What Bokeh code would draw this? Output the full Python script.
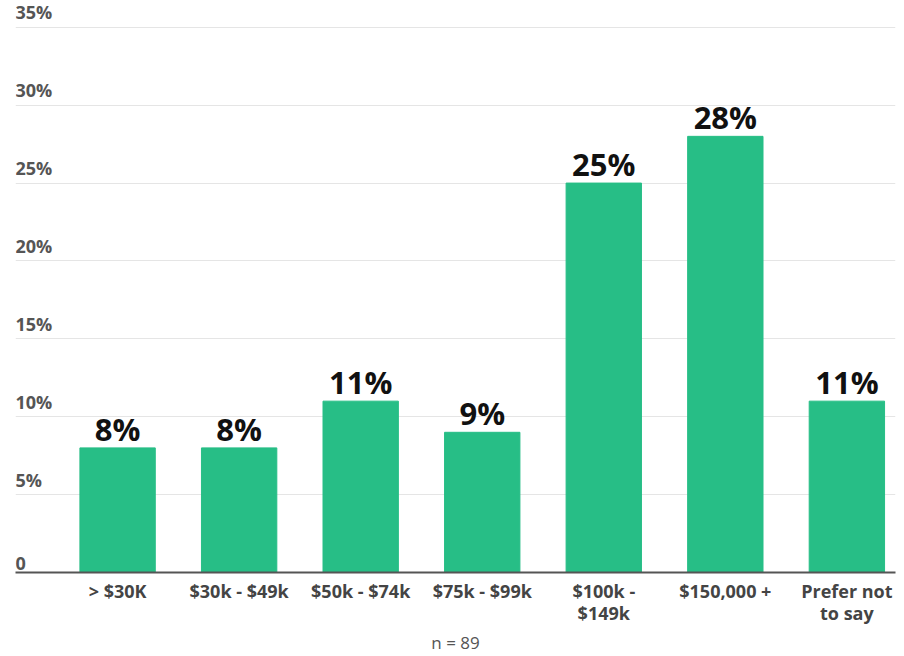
from bokeh.plotting import figure
from bokeh.models import FixedTicker, ColumnDataSource, Title
from bokeh.core.properties import value
from bokeh.embed import file_html
from bokeh.resources import INLINE

categories = ["> $30K", "$30k - $49k", "$50k - $74k", "$75k - $99k", "$100k -\n$149k", "$150,000 +", "Prefer not\nto say"]
values = [8, 8, 11, 9, 25, 28, 11]
y_ticks = [0, 5, 10, 15, 20, 25, 30, 35]
y_tick_labels = ["0", "5%", "10%", "15%", "20%", "25%", "30%", "35%"]
note = "n = 89"

FONT = "Open Sans"
x = list(range(len(categories)))

p = figure(width=904, height=656, output_backend="svg", toolbar_location=None,
           x_range=(-0.84, 6.40), y_range=(0, 36.4),
           min_border_left=15, min_border_right=9, min_border_top=5, min_border_bottom=84)
p.outline_line_color = None
p.background_fill_color = "white"
p.border_fill_color = "white"

src = ColumnDataSource(dict(x=x, top=values, lab=[f"{v}%" for v in values]))
p.vbar(x="x", top="top", width=0.62, bottom=0, source=src, color="#27be86")
p.text(x="x", y="top", text="lab", source=src, text_align="center", text_baseline="bottom",
       y_offset=2, text_font=value(FONT), text_font_style="bold", text_font_size="31px", text_color="#111111")

ysrc = ColumnDataSource(dict(x=[-0.84] * len(y_ticks), y=y_ticks, lab=y_tick_labels))
p.text(x="x", y="y", text="lab", source=ysrc, text_align="left", text_baseline="bottom",
       y_offset=-3, text_font=value(FONT), text_font_style="bold", text_font_size="18px", text_color="#555555")

p.yaxis.visible = False
p.ygrid.ticker = FixedTicker(ticks=y_ticks)
p.ygrid.grid_line_color = "#e5e5e5"
p.ygrid.grid_line_width = 1
p.xgrid.visible = False

xa = p.xaxis[0]
xa.ticker = FixedTicker(ticks=x)
xa.major_label_overrides = {i: c for i, c in enumerate(categories)}
xa.major_tick_line_color = None
xa.minor_tick_line_color = None
xa.major_tick_out = 0
xa.major_tick_in = 0
xa.axis_line_color = "#555555"
xa.axis_line_width = 2
xa.major_label_text_font = FONT
xa.major_label_text_font_style = "bold"
xa.major_label_text_font_size = "18px"
xa.major_label_text_color = "#444444"
xa.major_label_text_line_height = 0.95
xa.major_label_standoff = 6

p.add_layout(Title(text=note, align="center", text_font=FONT, text_font_size="17px",
                   text_font_style="normal", text_color="#555555", standoff=0), "below")

open("out.html", "w").write(file_html(p, INLINE))
